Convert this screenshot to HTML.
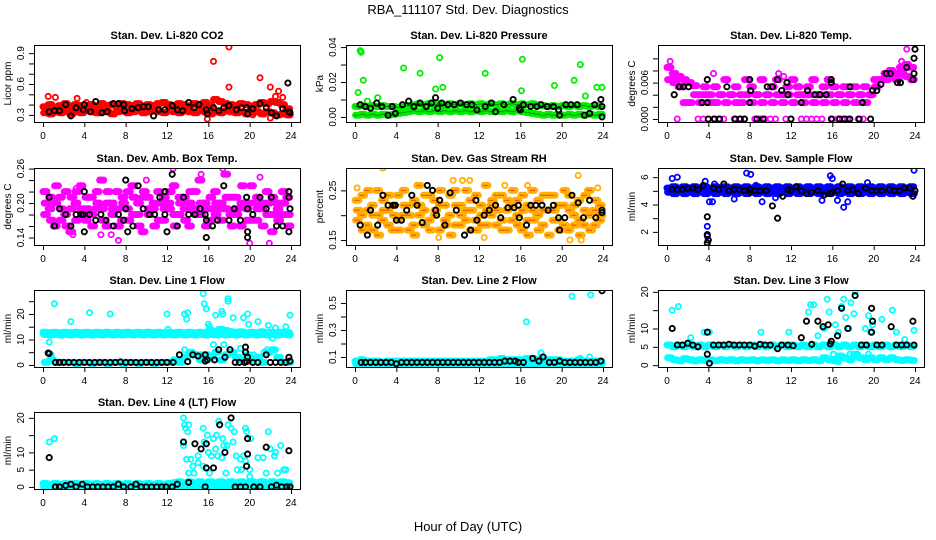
<!DOCTYPE html>
<html><head><meta charset="utf-8"><style>
body{margin:0;background:#fff}
svg{display:block;font-family:"Liberation Sans",Arial,sans-serif}
</style></head><body>
<svg id="chart" width="936" height="540" viewBox="0 0 936 540">
<text x="468" y="14" text-anchor="middle" font-size="13">RBA_111107  Std. Dev. Diagnostics</text>
<text x="468" y="531" text-anchor="middle" font-size="13">Hour of Day (UTC)</text>
</svg>
<script>
const hourTicks=[0,4,8,12,16,20,24];
const co2A=[0.38,0.40,0.37,0.39,0.41,0.38,0.40,0.39,0.37,0.40,0.38,0.41,0.39,0.40,0.38,0.41,0.40,0.39,0.41,0.38,0.40,0.39,0.41,0.42,0.40,0.39,0.41,0.40,0.38,0.41,0.40,0.42,0.39,0.45,0.43,0.41,0.40,0.39,0.41,0.40,0.38,0.40,0.42,0.41,0.43,0.42,0.40,0.36];
const co2B=[0.32,0.31,0.33,0.32,0.34,0.31,0.33,0.32,0.34,0.33,0.32,0.34,0.33,0.31,0.33,0.34,0.32,0.33,0.34,0.32,0.33,0.34,0.33,0.32,0.34,0.33,0.32,0.34,0.33,0.32,0.34,0.33,0.31,0.33,0.32,0.34,0.33,0.32,0.33,0.31,0.32,0.33,0.31,0.33,0.32,0.30,0.31,0.30];
const co2Out=[[0.5,0.48],[1.2,0.47],[3.3,0.46],[16.5,0.82],[18,0.96],[18,0.57],[21,0.66],[22,0.57],[22.8,0.53],[22.5,0.48],[23.2,0.47],[15.9,0.26],[22,0.27],[4.2,0.42],[20.3,0.30]];
const co2Blk=[[0.6,0.33],[1.1,0.34],[1.6,0.34],[2.2,0.40],[2.7,0.29],[3.2,0.37],[3.9,0.35],[4,0.40],[4.6,0.33],[5.1,0.43],[5.7,0.32],[6.2,0.33],[6.8,0.41],[7.3,0.41],[7.8,0.40],[7.9,0.34],[8.6,0.36],[9.2,0.37],[9.7,0.38],[10.2,0.38],[10.7,0.29],[11.2,0.35],[11.8,0.35],[12.5,0.39],[13,0.35],[13.5,0.34],[14.1,0.42],[14.6,0.37],[15.1,0.40],[15.8,0.35],[15.9,0.31],[16.5,0.37],[17,0.34],[17.5,0.37],[18,0.39],[18.7,0.35],[19.2,0.37],[19.7,0.37],[19.8,0.31],[20.3,0.36],[21,0.41],[21.6,0.37],[22.1,0.32],[22.6,0.29],[23.2,0.36],[23.7,0.61],[23.8,0.33],[23.9,0.32]];

const presA=[0.006,0.0065,0.006,0.0065,0.006,0.0065,0.006,0.006,0.0055,0.006,0.0065,0.007,0.0075,0.007,0.0075,0.007,0.0075,0.007,0.0075,0.007,0.0075,0.007,0.0075,0.007,0.0075,0.007,0.0075,0.007,0.0075,0.007,0.0075,0.007,0.0075,0.007,0.0075,0.007,0.0065,0.006,0.0065,0.006,0.0065,0.006,0.0065,0.006,0.0065,0.006,0.0065,0.006];
const presB=[0.001,0.0015,0.001,0.0015,0.001,0.0015,0.001,0.0015,0.002,0.0025,0.003,0.0035,0.003,0.0035,0.003,0.0035,0.003,0.0035,0.003,0.0035,0.003,0.0035,0.003,0.0035,0.003,0.0035,0.003,0.0035,0.003,0.0035,0.003,0.0035,0.003,0.0025,0.002,0.0015,0.001,0.0015,0.001,0.0015,0.001,0.0015,0.001,0.0015,0.001,0.0015,0.001,0.0015];
const presOut=[[0.3,0.014],[0.5,0.038],[0.6,0.037],[0.8,0.021],[1.2,0.009],[2.2,0.011],[4.7,0.028],[6.3,0.025],[7.8,0.016],[8.2,0.034],[8.5,0.017],[12.6,0.025],[16.1,0.015],[16.2,0.033],[19.3,0.018],[21.2,0.021],[21.8,0.03],[22.3,0.012],[23.4,0.017],[23.9,0.017]];
const presBlk=[[0.5,0.007],[1,0.006],[1.5,0.005],[2.1,0.008],[2.6,0.006],[3.2,0.001],[3.6,0.006],[3.9,0.002],[4.6,0.007],[5.2,0.009],[5.7,0.006],[6.3,0.008],[6.9,0.006],[7.4,0.008],[7.8,0.011],[8,0.005],[8.4,0.008],[9,0.007],[9.6,0.007],[10.2,0.008],[10.8,0.007],[11.3,0.007],[11.8,0.004],[12.6,0.006],[13.2,0.008],[13.6,0.003],[14.4,0.007],[15.3,0.01],[15.9,0.005],[16,0.004],[16.3,0.007],[17,0.006],[17.6,0.006],[18,0.007],[18.6,0.006],[19.2,0.006],[19.7,0.004],[19.8,0.001],[20.4,0.007],[20.9,0.007],[21.5,0.007],[22.2,0.001],[22.7,0.002],[23.2,0.007],[23.8,0.01],[23.9,0.006],[23.9,0]];

const tempA=[0.0085,0.0075,0.007,0.0065,0.006,0.0055,0.004,0.0053,0.004,0.0053,0.004,0.0065,0.004,0.0053,0.004,0.0065,0.0053,0.004,0.0065,0.004,0.0053,0.0065,0.004,0.0053,0.0065,0.0053,0.004,0.0053,0.0065,0.004,0.0053,0.0065,0.0053,0.004,0.0053,0.004,0.0053,0.004,0.0053,0.004,0.0065,0.0065,0.0075,0.008,0.0075,0.0085,0.009,0.0085];
const tempB=[0.0065,0.006,0.0053,0.0027,0.0027,0.004,0.0027,0.004,0.0027,0.0027,0.004,0.0027,0.004,0.0027,0.0027,0.004,0.0027,0.004,0.0027,0.004,0.0027,0.004,0.0027,0.004,0.0027,0.004,0.0027,0.004,0.0027,0.004,0.0027,0.004,0.0027,0.004,0.0027,0.004,0.0027,0.004,0.0027,0.004,0.0053,0.0065,0.0065,0.007,0.0065,0.0075,0.007,0.0065];
const tempOut=[[0.3,0.0095],[4.5,0.0075],[10.8,0.0075],[11.3,0.007],[23.2,0.0115],[22.7,0.0095],[1,0],[3,0],[3.5,0],[4.5,0],[5,0],[5.5,0],[6.5,0],[7,0],[7.5,0],[8.5,0],[9,0],[9.5,0],[10,0],[10.5,0],[11.5,0],[12,0],[13,0],[13.5,0],[14,0],[14.5,0],[15,0],[16,0],[16.5,0],[17,0],[17.5,0],[18.5,0],[19,0]];
const tempBlk=[[0.7,0.004],[1.2,0.0053],[1.6,0.0053],[2.1,0.0053],[3.4,0.0027],[3.9,0.0065],[3.9,0.0027],[4,0],[4.6,0],[5.1,0],[5.8,0.0053],[6.6,0],[7.1,0],[7.5,0],[8,0.0065],[8,0.0027],[8.1,0.0047],[8.7,0],[9.3,0],[9.7,0.0053],[10.2,0.0053],[10.7,0.0065],[11.1,0.0047],[11.6,0.006],[11.7,0.004],[12,0],[13,0.0027],[13.6,0.0047],[14.3,0.004],[14.8,0.004],[15.4,0.004],[15.9,0.0065],[15.9,0.006],[15.9,0],[16.7,0],[17.2,0],[17.7,0.0053],[17.7,0],[18.6,0],[18.9,0.0027],[19.7,0],[19.9,0.0047],[20.3,0.0047],[20.7,0.0057],[21.2,0.0075],[21.6,0.0075],[22.3,0.006],[22.6,0.006],[23.2,0.0085],[23.8,0.0065],[23.9,0.0075],[23.9,0.01],[24,0.0115]];

const ambA=[0.22,0.19,0.16,0.21,0.18,0.15,0.20,0.23,0.17,0.21,0.19,0.24,0.16,0.20,0.22,0.17,0.19,0.23,0.18,0.15,0.21,0.19,0.22,0.17,0.20,0.23,0.18,0.21,0.16,0.19,0.24,0.20,0.17,0.22,0.19,0.25,0.18,0.21,0.16,0.20,0.23,0.17,0.19,0.22,0.15,0.20,0.18,0.21];
const ambB=[0.18,0.21,0.20,0.17,0.22,0.19,0.17,0.19,0.21,0.18,0.22,0.19,0.20,0.18,0.19,0.21,0.22,0.18,0.20,0.21,0.18,0.20,0.17,0.21,0.19,0.18,0.21,0.19,0.20,0.22,0.18,0.19,0.21,0.18,0.20,0.19,0.21,0.18,0.20,0.19,0.17,0.21,0.20,0.18,0.21,0.19,0.22,0.18];
const ambC=[0.20,0.17,0.23,0.19,0.16,0.21,0.22,0.18,0.19,0.16,0.20,0.17,0.22,0.19,0.16,0.20,0.17,0.21,0.16,0.22,0.19,0.16,0.20,0.19,0.22,0.16,0.20,0.17,0.22,0.18,0.20,0.16,0.19,0.20,0.17,0.21,0.16,0.19,0.23,0.17,0.20,0.19,0.16,0.20,0.18,0.17,0.20,0.16];
const ambOut=[[12.6,0.26],[17.4,0.26],[7.3,0.135],[20,0.13],[21.9,0.13],[2.9,0.145],[6.6,0.145],[5.6,0.145],[10,0.24],[15.3,0.25],[21,0.245],[5.5,0.24],[3.2,0.225]];
const ambBlk=[[0.6,0.21],[1.1,0.16],[1.6,0.19],[2.2,0.18],[2.7,0.16],[3.2,0.18],[3.7,0.18],[3.9,0.18],[4,0.22],[4,0.15],[4.5,0.18],[5.1,0.17],[5.6,0.18],[6.1,0.17],[6.8,0.16],[7.3,0.18],[7.8,0.17],[8,0.24],[8,0.19],[8.2,0.15],[8.7,0.16],[9.2,0.23],[9.7,0.19],[10.3,0.18],[10.8,0.18],[11.3,0.21],[11.8,0.22],[11.8,0.18],[12,0.15],[12.5,0.25],[13,0.16],[13.6,0.21],[14.1,0.18],[14.7,0.18],[15.2,0.19],[15.7,0.18],[15.8,0.17],[15.8,0.14],[16.4,0.16],[16.9,0.17],[17.5,0.23],[18,0.17],[18.5,0.19],[19.1,0.17],[19.7,0.21],[19.8,0.19],[19.8,0.15],[19.8,0.14],[20.3,0.18],[21,0.21],[21.6,0.19],[22.1,0.21],[22.6,0.16],[23.2,0.16],[23.8,0.21],[23.8,0.22],[23.8,0.15],[23.9,0.19]];

const rhA=[0.23,0.20,0.18,0.22,0.25,0.19,0.21,0.17,0.24,0.20,0.22,0.18,0.26,0.21,0.19,0.23,0.17,0.22,0.20,0.25,0.18,0.21,0.23,0.19,0.22,0.26,0.20,0.18,0.24,0.21,0.19,0.23,0.17,0.22,0.25,0.20,0.18,0.21,0.24,0.19,0.22,0.17,0.20,0.23,0.18,0.25,0.21,0.19];
const rhB=[0.19,0.24,0.21,0.17,0.20,0.23,0.18,0.22,0.19,0.25,0.17,0.23,0.20,0.18,0.24,0.20,0.22,0.19,0.24,0.18,0.22,0.19,0.17,0.24,0.20,0.18,0.22,0.24,0.19,0.17,0.22,0.20,0.24,0.19,0.21,0.23,0.21,0.24,0.19,0.22,0.18,0.24,0.22,0.19,0.21,0.20,0.18,0.22];
const rhC=[0.21,0.17,0.25,0.20,0.16,0.21,0.24,0.20,0.17,0.22,0.20,0.16,0.22,0.24,0.17,0.21,0.25,0.18,0.16,0.22,0.20,0.25,0.21,0.17,0.18,0.21,0.23,0.21,0.17,0.23,0.25,0.18,0.21,0.16,0.19,0.17,0.24,0.16,0.21,0.17,0.25,0.21,0.18,0.16,0.24,0.17,0.23,0.20];
const rhOut=[[2.7,0.295],[9.5,0.27],[10.4,0.27],[11.1,0.27],[16.7,0.26],[21.6,0.28],[20.8,0.15],[21.9,0.15],[0.2,0.255],[23.5,0.255],[8.1,0.155],[12.5,0.155],[6,0.26],[14.5,0.26]];
const rhBlk=[[0.5,0.18],[1.2,0.16],[1.5,0.21],[2.2,0.18],[2.7,0.24],[3.2,0.22],[3.7,0.22],[3.9,0.22],[4,0.19],[4.5,0.19],[5,0.21],[5.5,0.24],[6,0.22],[6.5,0.185],[7,0.26],[7.5,0.25],[7.8,0.21],[7.9,0.20],[8.2,0.23],[8.7,0.18],[9.2,0.245],[9.8,0.21],[10.6,0.16],[11.2,0.17],[11.7,0.23],[11.8,0.19],[12.5,0.20],[13,0.21],[13.6,0.22],[14.1,0.195],[14.8,0.215],[15.4,0.215],[15.8,0.22],[15.9,0.195],[16.6,0.18],[17,0.22],[17.5,0.22],[18.1,0.22],[18.7,0.21],[19.2,0.22],[19.7,0.195],[19.8,0.17],[20.3,0.195],[21,0.24],[21.6,0.225],[22.1,0.195],[22.7,0.23],[23.3,0.195],[23.9,0.21],[23.9,0.205]];

const flowA=[5.2,5.3,5.2,5.3,5.2,5.3,5.2,5.3,5.2,5.3,5.2,5.3,5.2,5.3,5.2,5.3,5.2,5.3,5.2,5.3,5.2,5.3,5.2,5.3,5.2,5.3,5.2,5.3,5.2,5.3,5.2,5.3,5.2,5.3,5.2,5.3,5.2,5.3,5.2,5.3,5.2,5.3,5.2,5.3,5.2,5.3,5.2,5.3];
const flowB=[4.9,4.8,4.9,4.8,4.9,4.8,4.9,4.8,4.9,4.8,4.9,4.8,4.9,4.8,4.9,4.8,4.9,4.8,4.9,4.8,4.9,4.8,4.9,4.8,4.9,4.8,4.9,4.8,4.9,4.8,4.9,4.8,4.9,4.8,4.9,4.8,4.9,4.8,4.9,4.8,4.9,4.8,4.9,4.8,4.9,4.8,4.9,4.8];
const flowOut=[[0.5,5.9],[1,6],[3.7,5.7],[3.9,2.4],[3.9,1.7],[4.1,4.2],[4.4,4.2],[4.6,5.5],[7.7,6.3],[8.1,6.2],[8.6,5.4],[9.2,4.2],[10.5,4.5],[15.8,6.1],[16,5.9],[16.5,4.3],[17.1,3.8],[17.5,4.2],[19.4,5.6],[23.9,6.5],[6.5,4.4],[15,4.3]];
const flowBlk=[[0.5,5.1],[1,5.1],[1.5,5.1],[2,5.2],[2.5,5.2],[3,5.1],[3.5,5.4],[3.9,3.1],[3.9,1.8],[4,1.4],[3.9,1.2],[4.5,5.2],[5,5.1],[5.5,5.5],[6,5],[6.5,5.1],[7,5.1],[7.5,5],[8,4.9],[8,5.1],[8.5,5],[9,5],[9.6,5],[10.2,3.9],[10.7,3],[11.2,4.6],[11.7,5.1],[12,5],[12.5,5.3],[13,5],[13.5,4.8],[14,4.9],[14.6,5],[15.2,4.7],[15.8,4.8],[16,4.9],[16.5,5],[17,5.5],[17.5,5],[18,5.1],[18.5,4.8],[19.2,5.2],[19.8,5],[20.3,5],[20.8,5],[21.5,5.1],[22,5],[22.5,5],[23,5.2],[23.5,5.2],[23.8,4.6],[24,5]];

const l1A=[12.8,12.6,12.8,12.6,12.8,12.6,12.8,12.6,12.8,12.6,12.8,12.6,12.8,12.6,12.8,12.6,12.8,12.6,12.8,12.6,12.8,12.6,12.8,12.6,12.8,12.6,12.8,12.6,12.8,12.6,12.8,12.6,13.5,13,14,13.5,13,12.8,13,12.6,12.8,12.6,13,12.6,12.8,12.6,12.8,12.6];
const l1B=[12,11.8,12,11.8,12,11.8,12,11.8,12,11.8,12,11.8,12,11.8,12,11.8,12,11.8,12,11.8,12,11.8,12,11.8,12,11.8,12,11.8,12,11.8,12,11.8,12,11.8,12,11.8,12,11.8,12,11.8,12,11.8,12,11.8,12,11.8,12,11.8];
const l1C=[1,2,1,1,1,1,0.5,1,1,0.5,1,1,0.5,1,1,0.5,1,1,0.5,1,1,0.5,1,1,1,2,1,3,5,4,2,4,3,5,2,4,5,3,2,4,2,3,1,5,6,3,1,1];
const l1Out=[[0.8,4],[0.6,9],[1.1,24],[2.7,17],[4.5,20.5],[6.5,20],[12,20],[12.1,14],[13.7,6],[13.7,20],[14,20.5],[13.9,18],[15.5,28],[15.6,24],[15.8,22],[16,16],[16.1,15],[16.5,8],[16.7,19.5],[17.3,21],[17.4,20],[17.9,25],[17.9,26],[18.4,18.5],[19.1,6.5],[19.4,18.5],[19.8,20],[19.9,16],[20.8,17],[21.4,5],[21.7,6],[21.8,15.5],[22.2,10.5],[22.5,14.5],[23.9,19.5],[14.5,4],[15.3,4],[17.5,8],[20.4,4],[22.8,13],[23.5,15]];
const l1Blk=[[0.5,4.7],[0.6,4.5],[1.2,1],[1.6,1],[2,1],[2.5,1],[3,1],[3.5,1],[4,1],[4.5,1],[5,1],[5.5,1],[6,1],[6.5,1],[7,1],[7.5,1.2],[8,1],[8.5,1],[9,1],[9.5,1],[10,1],[10.5,1],[11,1],[11.5,1],[12,1],[12.6,1],[13.2,4],[14,1.3],[14.5,4],[15,3.5],[15.7,4],[15.7,1.5],[15.9,2],[16.6,2],[17,6],[17.6,3],[18.1,6],[18.6,1],[19,1],[19.5,1],[19.6,7],[19.6,5],[19.7,1.3],[19.8,3],[20.3,1],[20.8,1],[21.6,4],[22,1],[22.5,1],[23,1],[23.5,1],[23.8,3],[23.9,1.5]];

const l2A=[0.07,0.08,0.07,0.07,0.07,0.06,0.07,0.07,0.07,0.07,0.07,0.07,0.07,0.07,0.07,0.07,0.07,0.07,0.07,0.07,0.07,0.07,0.07,0.07,0.07,0.07,0.08,0.08,0.09,0.08,0.08,0.08,0.08,0.09,0.09,0.08,0.08,0.08,0.08,0.08,0.07,0.07,0.07,0.08,0.07,0.07,0.07,0.07];
const l2B=[0.05,0.05,0.05,0.05,0.05,0.05,0.05,0.05,0.05,0.05,0.05,0.05,0.05,0.05,0.05,0.05,0.05,0.05,0.05,0.05,0.05,0.05,0.05,0.05,0.05,0.05,0.05,0.05,0.05,0.05,0.05,0.05,0.05,0.05,0.05,0.05,0.05,0.05,0.05,0.05,0.05,0.05,0.05,0.05,0.05,0.05,0.05,0.05];
const l2Out=[[16.6,0.36],[21,0.55],[22.8,0.56],[18,0.13],[22.7,0.1],[21.8,0.09]];
const l2Blk=[[0.6,0.06],[1,0.06],[1.5,0.06],[2,0.06],[2.5,0.06],[3,0.06],[3.5,0.06],[4,0.05],[4.5,0.06],[5,0.06],[5.5,0.06],[6,0.06],[6.5,0.06],[7,0.06],[7.5,0.06],[8,0.06],[8.5,0.06],[9,0.06],[9.5,0.06],[10,0.06],[10.5,0.06],[11,0.06],[11.5,0.06],[12,0.06],[12.5,0.06],[13,0.06],[13.5,0.06],[14,0.06],[14.5,0.07],[15,0.07],[15.5,0.07],[15.8,0.06],[16.3,0.06],[17.2,0.09],[17.8,0.07],[18.2,0.1],[18.8,0.06],[19.3,0.06],[19.8,0.07],[20.3,0.06],[20.8,0.06],[21.3,0.06],[21.8,0.06],[22.3,0.06],[22.8,0.06],[23.3,0.06],[23.8,0.07],[23.9,0.59]];

const l3A=[5.5,5,5.5,5,5.5,5,5.5,5,5.5,5,5.5,5,5.5,5,5.5,5,5.5,5,5.5,5,5.5,5,5.5,5,5.5,5,5.5,5,5.5,5,5.5,5,5.5,5,5.5,5,5.5,5,5.5,5,5.5,5,5.5,5,5.5,5,5.5,5];
const l3B=[2,1.5,1.2,1.8,1.5,1.2,1.5,1.3,1.5,1.2,1.5,1.3,1.5,1.2,1.5,1.3,1.5,1.2,1.5,1.3,1.5,1.2,1.5,1.3,1.5,1.2,1.5,1.3,1.5,1.2,2,1.5,1.2,2.5,2,1.5,3,2,1.5,2,1.5,2,1.5,2,1.5,1.3,1.5,1.3];
const l3Out=[[0.5,15],[1.1,16],[3.6,9],[4.1,9],[9.1,9],[11.8,9],[13.7,14.5],[13.9,16.5],[14.2,16.5],[15.5,18],[15.7,14.5],[16.3,11],[16.9,16],[17.1,18],[17.3,13],[17.8,17],[18.1,14],[18.2,20],[19.5,13.5],[19.7,9],[19.9,11],[20.8,12.5],[21.8,15],[22.2,9],[14.6,8],[15.2,10],[16.6,9],[17.6,10],[19.2,10],[23.9,9.5],[16.1,3],[16.6,1],[17.7,3],[19.5,3],[2.3,7.5],[23,7]];
const l3Blk=[[0.5,10],[1,5.5],[1.5,5.5],[2,6],[2.5,5.5],[3,5],[3.9,3],[3.9,9],[4.1,0.5],[4.5,5.5],[5,5.5],[5.5,5.5],[6,5.7],[6.5,5.5],[7,5.5],[7.5,5.5],[8,5.5],[8.5,5.2],[9,5.7],[9.5,5.5],[10,5.5],[10.7,4.5],[11.1,5.5],[11.7,5.5],[12.2,5.3],[13,7.5],[13.5,12],[14,5.7],[14.6,12],[15.1,10.5],[15.6,11],[15.8,5.8],[15.9,6.5],[16.5,8],[16.9,15.5],[17.5,10],[18.2,19],[18.8,5.5],[19.3,5.5],[19.8,15.5],[19.9,12],[19.8,9],[20.3,5.5],[20.8,5.5],[21.7,10.5],[22.2,5.5],[22.7,5.5],[23.2,5.5],[23.8,12],[23.9,5.5]];

const l4A=[1,0.8,1,0.8,1,0.8,1,0.8,1,0.8,1,0.8,1,0.8,1,0.8,1,0.8,1,0.8,1,0.8,1,0.8,1,1.2,1.5,1.2,1.5,1.2,1.5,1.2,1.5,1.2,1.5,1.2,1.5,1.2,1.5,1.2,1.5,1.2,1.5,1.2,1.5,1.2,1.5,1.2];
const l4B=[0,0.2,0,0.2,0,0.2,0,0.2,0,0.2,0,0.2,0,0.2,0,0.2,0,0.2,0,0.2,0,0.2,0,0.2,0,0.2,0,0.2,0,0.2,0,0.2,0,0.2,0,0.2,0,0.2,0,0.2,0,0.2,0,0.2,0,0.2,0,0.2];
const l4Out=[[0.6,13],[1.1,14],[13.6,20],[13.7,18],[13.8,17],[14,16],[14.1,18],[13.6,12],[13.9,8],[14.3,8],[14.1,4],[14.6,4],[14.5,6],[15,9],[15,7],[15.5,6],[15.6,13],[15.5,17],[15.9,15],[16,10],[16.3,9],[16.1,4],[16.5,14],[16.7,11],[16.8,15],[16.9,9],[17,19],[17.3,8.5],[17.4,14],[17.5,12],[17.7,4],[17.8,12],[17.9,18],[18.2,17],[18.4,13],[18.5,16],[18.7,9],[18.8,5],[19.1,8],[19.2,5],[19.4,9],[19.6,7.5],[19.6,17],[19.7,16],[20,5],[20,3],[20.1,14],[20.8,8.5],[21.3,8.5],[21.6,4],[21.8,16],[22,11],[22.4,9],[22.5,10],[22.7,4],[23,12],[23.3,5],[23.5,5]];
const l4Blk=[[0.6,8.5],[1.2,0],[1.6,0],[2.2,0.4],[2.7,0.8],[3.2,0],[3.8,0.8],[4.3,0],[4.8,0],[5.3,0],[5.8,0],[6.3,0],[6.8,0],[7.3,0.8],[7.8,0],[8.5,0],[9,0.8],[9.5,0],[10,0],[10.5,0],[11,0],[11.5,0],[11.9,0],[12.5,0],[13,0.8],[13.6,13],[14.1,1.3],[14.7,12.5],[15.3,11],[15.8,12.5],[15.8,5.5],[16.5,5.5],[17.1,18],[17.6,10],[18.2,20],[19.8,14],[19.8,9.5],[19.7,6],[21.6,11.5],[23.8,10.5],[15.7,0],[18.6,0],[19.1,0],[19.6,0],[20.4,0],[21,0],[22.1,0],[22.6,0.5],[23.1,0],[23.6,0],[23.9,0]];

const NS='http://www.w3.org/2000/svg';
const svg=document.getElementById('chart');
const colX=[34,346,658], rowY=[45,168,290,412], BW=266, BH=77;
function mk(tag,attrs,parent){const e=document.createElementNS(NS,tag);for(const k in attrs)e.setAttribute(k,attrs[k]);(parent||svg).appendChild(e);return e;}

const panels=[
 {c:0,r:0,title:'Stan. Dev. Li-820 CO2',ylab:'Licor ppm',lo:0.231,hi:0.979,ticks:[0.3,0.4,0.5,0.6,0.7,0.8,0.9],labels:[0.3,0.6,0.9],fmt:1,color:'#ff0000',bands:[co2A,co2B],out:co2Out,blk:co2Blk},
 {c:1,r:0,title:'Stan. Dev. Li-820 Pressure',ylab:'kPa',lo:-0.0029,hi:0.0412,ticks:[0,0.01,0.02,0.03,0.04],labels:[0,0.02,0.04],fmt:2,color:'#00ee00',dots:'#007000',bands:[presA,presB],out:presOut,blk:presBlk},
 {c:2,r:0,title:'Stan. Dev. Li-820 Temp.',ylab:'degrees C',lo:-0.0005,hi:0.0122,ticks:[0,0.002,0.004,0.006,0.008,0.01],labels:[0,0.006],fmt:3,color:'#ff00ff',bands:[tempA,tempB],out:tempOut,blk:tempBlk},
 {c:0,r:1,title:'Stan. Dev. Amb. Box Temp.',ylab:'degrees C',lo:0.127,hi:0.261,ticks:[0.14,0.16,0.18,0.2,0.22,0.24,0.26],labels:[0.14,0.2,0.26],fmt:2,color:'#ff00ff',bands:[ambA,ambB,ambC],out:ambOut,blk:ambBlk},
 {c:1,r:1,title:'Stan. Dev. Gas Stream RH',ylab:'percent',lo:0.14,hi:0.295,ticks:[0.15,0.2,0.25],labels:[0.15,0.25],fmt:2,color:'#ffb000',dots:'#ff2000',bands:[rhA,rhB,rhC],out:rhOut,blk:rhBlk},
 {c:2,r:1,title:'Stan. Dev. Sample Flow',ylab:'ml/min',lo:1.04,hi:6.67,ticks:[2,3,4,5,6],labels:[2,4,6],fmt:0,color:'#0000ff',bands:[flowA,flowB],out:flowOut,blk:flowBlk},
 {c:0,r:2,title:'Stan. Dev. Line 1 Flow',ylab:'ml/min',lo:-0.8,hi:29.4,ticks:[0,5,10,15,20,25],labels:[0,10,20],fmt:0,color:'#00ffff',bands:[l1A,l1B,l1C],out:l1Out,blk:l1Blk},
 {c:1,r:2,title:'Stan. Dev. Line 2 Flow',ylab:'ml/min',lo:0.026,hi:0.596,ticks:[0.1,0.2,0.3,0.4,0.5],labels:[0.1,0.3,0.5],fmt:1,color:'#00ffff',bands:[l2A,l2B],out:l2Out,blk:l2Blk},
 {c:2,r:2,title:'Stan. Dev. Line 3 Flow',ylab:'ml/min',lo:-0.5,hi:20.5,ticks:[0,5,10,15,20],labels:[0,5,10,20],fmt:0,color:'#00ffff',bands:[l3A,l3B],out:l3Out,blk:l3Blk},
 {c:0,r:3,title:'Stan. Dev. Line 4 (LT) Flow',ylab:'ml/min',lo:-0.6,hi:21.7,ticks:[0,5,10,15,20],labels:[0,5,10,20],fmt:0,color:'#00ffff',bands:[l4A,l4B],out:l4Out,blk:l4Blk}
];

panels.forEach((p,pi)=>{
  const L=colX[p.c], T=rowY[p.r];
  const g=mk('g',{});
  
  
  const xs=h=>L+9+h*(248/24);
  const ys=v=>T+BH-(v-p.lo)/(p.hi-p.lo)*BH;
  const t=mk('text',{x:L+BW/2,y:T-6,'text-anchor':'middle','font-size':11,'font-weight':'bold'},g);
  t.textContent=p.title;
  
  
  const cid='clip'+pi;
  const cp=mk('clipPath',{id:cid},g); mk('rect',{x:L,y:T,width:BW,height:BH},cp);
  const pts=mk('g',{'clip-path':'url(#'+cid+')'},g);
  
  
  function pt(h,v,col,w){const c=mk('circle',{cx:xs(h).toFixed(1),cy:ys(v).toFixed(1),r:2.6,fill:'none',stroke:col,'stroke-width':w||1.8},pts);
    
    }
  p.bands.forEach((arr,bi)=>{arr.forEach((v,i)=>{const h=i*0.5+bi*0.06;for(let k=0;k<4;k++)pt(h+k*0.125,v,p.color);});});
  p.out.forEach(d=>pt(d[0],d[1],p.color));
  if(p.dots){p.bands.forEach((arr,bi)=>{arr.forEach((v,i)=>{for(let k=0;k<4;k++){const h=i*0.5+k*0.125;
    const d=mk('rect',{x:(xs(h)-0.5).toFixed(1),y:(ys(v)-0.5).toFixed(1),width:1,height:1,fill:p.dots},pts);
    
    }});});}
  p.blk.forEach(d=>pt(d[0],d[1],'#000',1.9));
  const box=mk('rect',{x:L+0.5,y:T+0.5,width:BW,height:BH,fill:'none',stroke:'#000','stroke-width':1},g);
  
  
  const xa=mk('g',{},g);
  
  
  mk('line',{x1:xs(0),x2:xs(24),y1:T+BH+0.5,y2:T+BH+0.5,stroke:'#000'},xa);
  hourTicks.forEach(h=>{mk('line',{x1:xs(h)+0.5,x2:xs(h)+0.5,y1:T+BH,y2:T+BH+5,stroke:'#000'},xa);
    const tl=mk('text',{x:xs(h),y:T+BH+17,'text-anchor':'middle','font-size':10},xa);tl.textContent=h;
    
    });
  const ya=mk('g',{},g);
  
  
  const tk=p.ticks;
  mk('line',{x1:L+0.5,x2:L+0.5,y1:ys(tk[0]),y2:ys(tk[tk.length-1]),stroke:'#000'},ya);
  tk.forEach(v=>mk('line',{x1:L-5,x2:L,y1:ys(v)+0.5,y2:ys(v)+0.5,stroke:'#000'},ya));
  p.labels.forEach(v=>{const x=L-10,y=ys(v);
    const tl=mk('text',{x:x,y:y,'text-anchor':'middle','font-size':10,transform:'rotate(-90 '+x+' '+y+')'},ya);
    tl.textContent=v.toFixed(p.fmt);
    
    });
  const yx=L-23, yy=T+BH/2;
  const yl=mk('text',{x:yx,y:yy,'text-anchor':'middle','font-size':10,transform:'rotate(-90 '+yx+' '+yy+')'},g);
  yl.textContent=p.ylab;
  
  
});
</script>
</body></html>
